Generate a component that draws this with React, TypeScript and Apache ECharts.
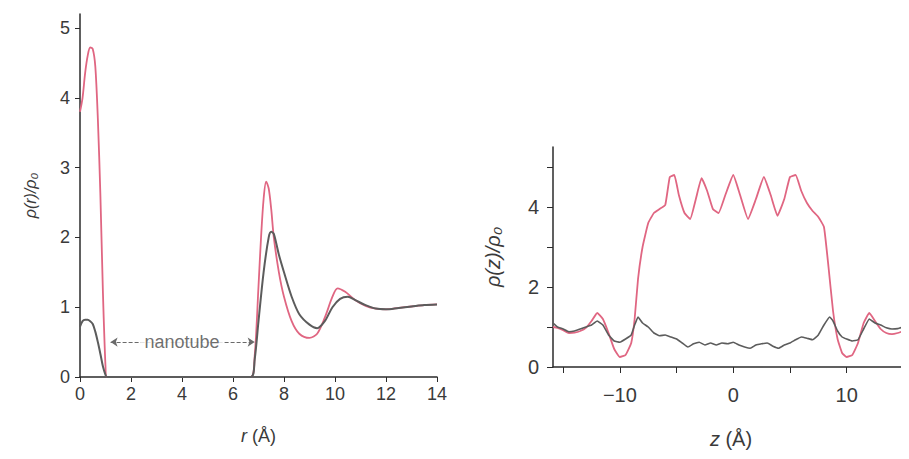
import React, { useEffect, useRef } from "react";
import * as echarts from "echarts";

// Left panel: radial density rho(r)/rho0
const rPink = [0, 0.1, 0.2, 0.3, 0.4, 0.5, 0.6, 0.7, 0.8, 0.9, 1.0, 1.05, 6.7, 6.85, 7.0, 7.1, 7.2, 7.3, 7.4, 7.5, 7.6, 7.8, 8.0, 8.3, 8.6, 9.0, 9.3, 9.6, 9.9, 10.1, 10.4, 10.8, 11.2, 11.6, 12, 12.5, 13, 13.5, 14];
const pinkR = [3.8, 4.0, 4.35, 4.6, 4.72, 4.7, 4.45, 3.7, 2.6, 1.2, 0.15, 0, 0, 0.3, 1.3, 2.0, 2.55, 2.8, 2.7, 2.4, 2.0, 1.5, 1.15, 0.8, 0.62, 0.56, 0.62, 0.85, 1.15, 1.27, 1.22, 1.1, 1.02, 0.98, 0.97, 0.99, 1.01, 1.03, 1.04];
const rGray = [0, 0.1, 0.2, 0.3, 0.4, 0.5, 0.6, 0.7, 0.8, 0.9, 1.0, 1.05, 6.7, 6.85, 7.0, 7.2, 7.4, 7.5, 7.6, 7.8, 8.0, 8.3, 8.6, 9.0, 9.3, 9.6, 9.9, 10.2, 10.5, 10.8, 11.2, 11.6, 12, 12.5, 13, 13.5, 14];
const grayR = [0.72, 0.8, 0.82, 0.82, 0.8, 0.76, 0.65, 0.5, 0.33, 0.15, 0.03, 0, 0, 0.25, 0.8, 1.5, 2.0, 2.08, 2.05, 1.75, 1.5, 1.15, 0.9, 0.75, 0.7, 0.8, 1.0, 1.12, 1.15, 1.1, 1.03, 0.98, 0.97, 0.99, 1.01, 1.03, 1.04];
const rTicks = [0, 2, 4, 6, 8, 10, 12, 14];
const rhoRTicks = [0, 1, 2, 3, 4, 5];
const nanotubeSpan = [1.2, 6.85];
const nanotubeLevel = 0.5;
const nanotubeLabelAt = [4.0, 0.5];

// Right panel: axial density rho(z)/rho0
const zPink = [-15.9, -15.5, -15, -14.5, -14, -13.5, -13, -12.5, -12, -11.5, -11, -10.5, -10, -9.5, -9, -8.7, -8.4, -8, -7.5, -7, -6.5, -6, -5.6, -5.2, -4.8, -4.3, -3.8, -3.3, -2.8, -2.3, -1.8, -1.3, -0.7, 0, 0.6, 1.3, 2.0, 2.7, 3.3, 3.9, 4.5, 5.0, 5.5, 6.0, 6.5, 7.0, 7.5, 8.0, 8.4, 8.8, 9.2, 9.6, 10.0, 10.5, 11, 11.5, 12, 12.5, 13, 13.5, 14, 14.5, 15, 15.5];
const pinkZ = [1.0, 0.98, 0.92, 0.85, 0.86, 0.9, 0.98, 1.15, 1.35, 1.2, 0.85, 0.45, 0.25, 0.3, 0.6, 1.2, 2.2, 3.0, 3.6, 3.85, 3.95, 4.05, 4.75, 4.8, 4.3, 3.85, 3.7, 4.2, 4.72, 4.4, 3.95, 3.85, 4.3, 4.8, 4.3, 3.7, 4.2, 4.75, 4.3, 3.78, 4.2, 4.75, 4.8, 4.4, 4.1, 3.9, 3.75, 3.5, 2.5, 1.4, 0.7, 0.35, 0.25, 0.3, 0.6, 1.1, 1.35, 1.15, 0.95, 0.85, 0.82, 0.85, 0.9, 0.95];
const zGray = [-15.9, -15.5, -15, -14.5, -14, -13.5, -13, -12.5, -12, -11.5, -11, -10.5, -10, -9.5, -9, -8.7, -8.4, -8, -7.5, -7, -6.5, -6, -5.5, -5, -4.5, -4, -3.5, -3, -2.5, -2, -1.5, -1, -0.5, 0, 0.5, 1, 1.5, 2, 2.5, 3, 3.5, 4, 4.5, 5, 5.5, 6, 6.5, 7, 7.5, 8, 8.5, 8.8, 9.2, 9.6, 10, 10.5, 11, 11.5, 12, 12.5, 13, 13.5, 14, 14.5, 15, 15.5];
const grayZ = [1.1, 1.0, 0.95, 0.88, 0.9, 0.95, 1.0, 1.05, 1.15, 1.05, 0.8, 0.65, 0.62, 0.7, 0.8, 1.05, 1.25, 1.1, 1.0, 0.85, 0.78, 0.8, 0.75, 0.7, 0.6, 0.5, 0.58, 0.62, 0.55, 0.6, 0.55, 0.6, 0.58, 0.62, 0.55, 0.5, 0.47, 0.55, 0.58, 0.6, 0.52, 0.47, 0.55, 0.6, 0.68, 0.75, 0.72, 0.68, 0.8, 1.05, 1.25, 1.15, 0.9, 0.75, 0.7, 0.65, 0.68, 0.95, 1.2, 1.1, 1.05, 0.98, 0.95, 0.96, 1.0, 1.0];
const zTicks = [-15, -10, -5, 0, 5, 10, 15];
const zLabels = [-10, 0, 10];
const rhoZTicks = [0, 1, 2, 3, 4, 5];
const rhoZLabels = [0, 2, 4];

const PINK = "#e06682";
const GRAY = "#5c5c5c";
const AXIS = "#2b2b2b";
const TEXT = "#3a3a3a";
const FONT = "'Liberation Sans', Arial, 'DejaVu Sans', sans-serif";

const zip = (xs: number[], ys: number[]) => xs.map((x, i) => [x, ys[i]]);

export default function App() {
  const ref = useRef<HTMLDivElement>(null);
  useEffect(() => {
    if (!ref.current) return;
    const chart = echarts.init(ref.current, null, { renderer: "svg" });
    const axisLine = { show: true, onZero: false, lineStyle: { color: AXIS, width: 1.5 } };
    chart.setOption({
      animation: false,
      backgroundColor: "#ffffff",
      textStyle: { fontFamily: FONT },
      grid: [
        { left: 80, top: 14, width: 357, height: 363 },
        { left: 553, top: 147, width: 356, height: 220 },
      ],
      xAxis: [
        {
          gridIndex: 0, type: "value", min: 0, max: 14,
          axisLine, splitLine: { show: false },
          axisTick: { show: true, length: 5, lineStyle: { color: AXIS }, customValues: rTicks },
          axisLabel: { customValues: rTicks, fontSize: 18, color: TEXT, margin: 8, fontFamily: FONT },
          name: "{i|r} (Å)", nameLocation: "middle", nameGap: 50,
          nameTextStyle: { fontSize: 18, color: TEXT, fontFamily: FONT, rich: { i: { fontStyle: "italic", fontSize: 18, color: TEXT, fontFamily: FONT } } },
        },
        {
          gridIndex: 1, type: "value", min: -15.9, max: 15.5,
          axisLine, splitLine: { show: false },
          axisTick: { show: true, length: 6, lineStyle: { color: AXIS }, customValues: zTicks },
          axisLabel: {
            customValues: zLabels, fontSize: 20, color: TEXT, margin: 18, fontFamily: FONT,
            formatter: (v: number) => (v < 0 ? "\u2212" + Math.abs(v) : String(v)),
          },
          name: "{i|z} (Å)", nameLocation: "middle", nameGap: 62,
          nameTextStyle: { fontSize: 20, color: TEXT, fontFamily: FONT, rich: { i: { fontStyle: "italic", fontSize: 20, color: TEXT, fontFamily: FONT } } },
        },
      ],
      yAxis: [
        {
          gridIndex: 0, type: "value", min: 0, max: 5.2,
          axisLine, splitLine: { show: false },
          axisTick: { show: true, length: 5, lineStyle: { color: AXIS }, customValues: rhoRTicks },
          axisLabel: { customValues: rhoRTicks, fontSize: 18, color: TEXT, margin: 10, fontFamily: FONT },
          name: "ρ(r)/ρ₀", nameLocation: "middle", nameGap: 42,
          nameTextStyle: { fontSize: 16, color: TEXT, fontStyle: "italic", fontFamily: FONT },
        },
        {
          gridIndex: 1, type: "value", min: 0, max: 5.5,
          axisLine, splitLine: { show: false },
          axisTick: { show: true, length: 6, lineStyle: { color: AXIS }, customValues: rhoZTicks },
          axisLabel: { customValues: rhoZLabels, fontSize: 20, color: TEXT, margin: 14, fontFamily: FONT },
          name: "ρ(z)/ρ₀", nameLocation: "middle", nameGap: 50,
          nameTextStyle: { fontSize: 20, color: TEXT, fontStyle: "italic", fontFamily: FONT },
        },
      ],
      series: [
        {
          type: "line", xAxisIndex: 0, yAxisIndex: 0, data: zip(rPink, pinkR), z: 2,
          smooth: 0.3, showSymbol: false, lineStyle: { color: PINK, width: 1.8 },
          markLine: {
            silent: true, symbol: ["arrow", "arrow"], symbolSize: 7, z: 3,
            lineStyle: { type: "dashed", color: "#6a6a6a", width: 1 },
            label: { show: false },
            data: [[{ coord: [nanotubeSpan[0], nanotubeLevel] }, { coord: [nanotubeSpan[1], nanotubeLevel] }]],
          },
        },
        {
          type: "line", xAxisIndex: 0, yAxisIndex: 0, data: zip(rGray, grayR), z: 4,
          smooth: 0.3, showSymbol: false, lineStyle: { color: GRAY, width: 2 },
        },
        {
          type: "scatter", xAxisIndex: 0, yAxisIndex: 0, data: [nanotubeLabelAt],
          symbolSize: 1, itemStyle: { color: "rgba(0,0,0,0)" }, silent: true, z: 20, zlevel: 1,
          label: {
            show: true, position: "inside", formatter: "nanotube", fontSize: 18, color: "#4a4a4a",
            backgroundColor: "#ffffff", padding: [1, 4], fontFamily: FONT,
          },
        },
        {
          type: "line", xAxisIndex: 1, yAxisIndex: 1, data: zip(zPink, pinkZ), z: 2,
          smooth: 0.12, showSymbol: false, lineStyle: { color: PINK, width: 1.8 },
        },
        {
          type: "line", xAxisIndex: 1, yAxisIndex: 1, data: zip(zGray, grayZ), z: 4,
          smooth: 0.1, showSymbol: false, lineStyle: { color: GRAY, width: 1.6 },
        },
      ],
    });
    return () => chart.dispose();
  }, []);
  return <div ref={ref} style={{ width: 909, height: 459, margin: -8 }} />;
}
